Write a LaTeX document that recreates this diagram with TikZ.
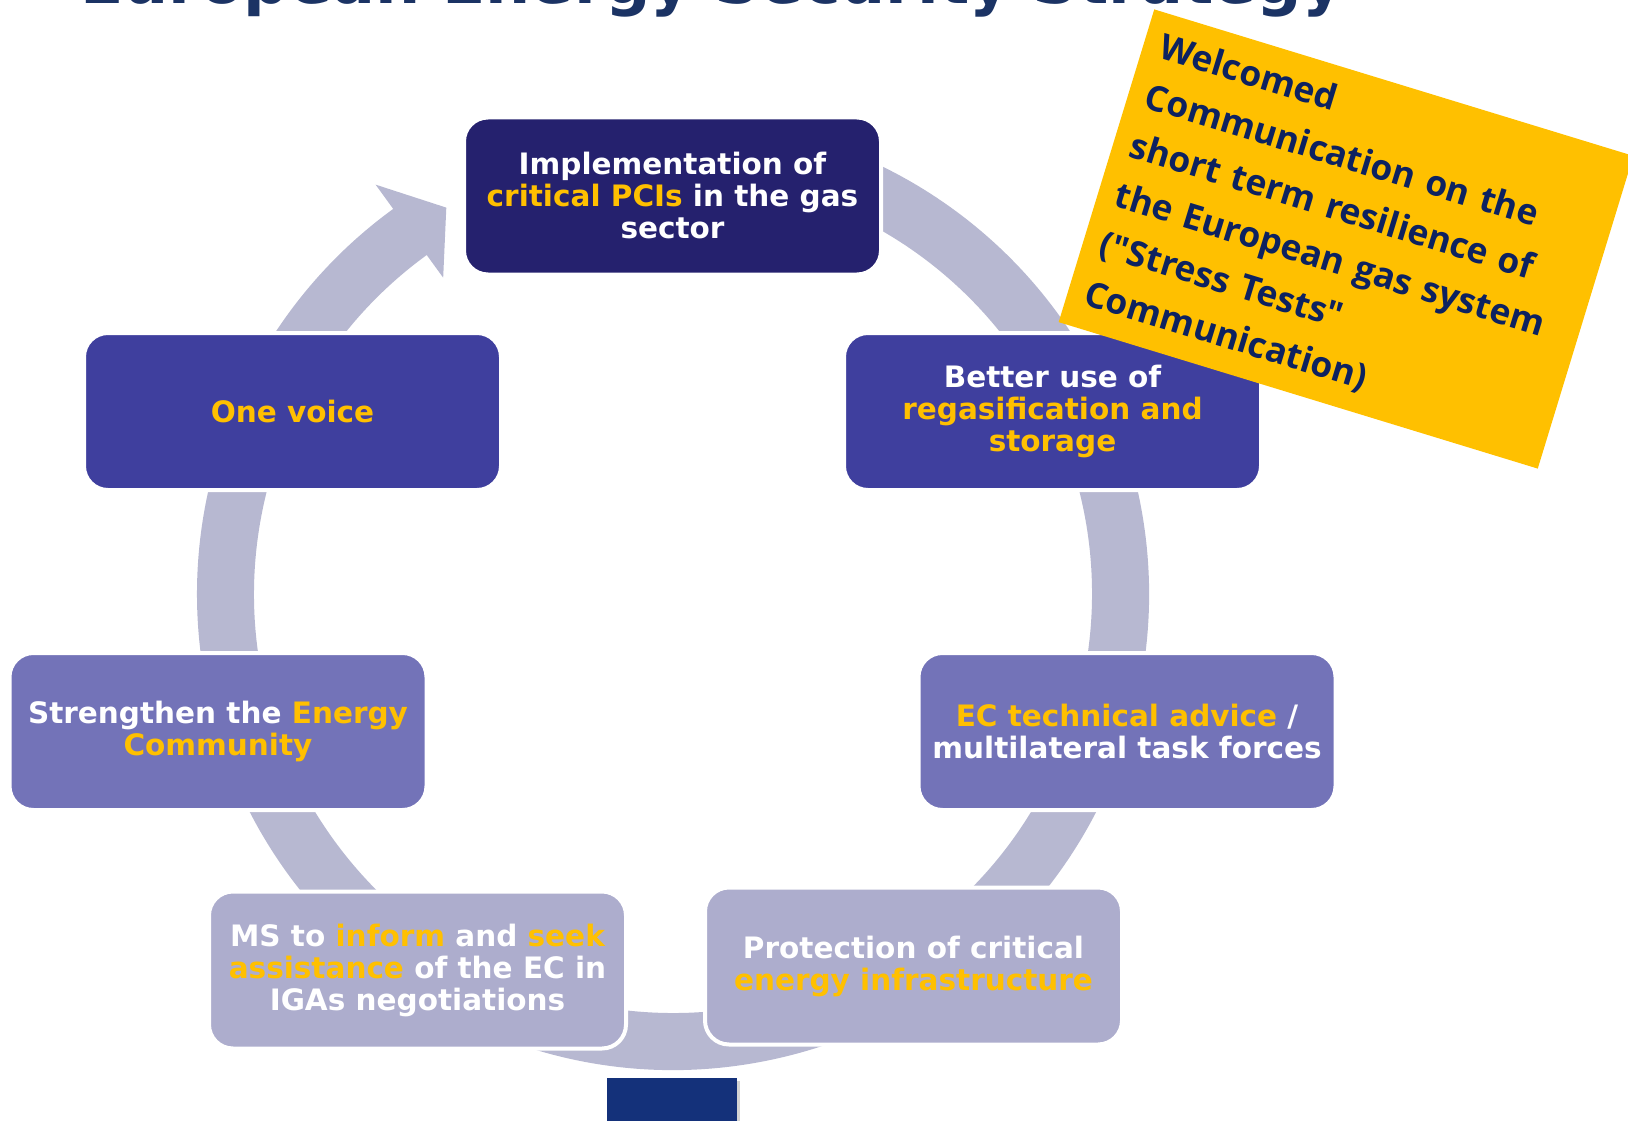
\documentclass[tikz,border=0pt]{standalone}
\usepackage{fontspec}
\setmainfont{DejaVu Sans}
\newfontfamily\notefont{Open Sans}
\usetikzlibrary{calc,shadows}

\definecolor{ringgray}{HTML}{B7B8D1}
\definecolor{navybox}{HTML}{25216E}
\definecolor{midbox}{HTML}{3F3F9E}
\definecolor{lightbox}{HTML}{7373B8}
\definecolor{palebox}{HTML}{ADADCD}
\definecolor{eugold}{HTML}{FFC000}
\definecolor{titleblue}{HTML}{1B3364}
\definecolor{notetext}{HTML}{0D2260}
\definecolor{footblue}{HTML}{14317A}

\newcommand{\gold}[1]{\textcolor{eugold}{#1}}

\tikzset{
  pillar/.style={rounded corners=24pt, draw=white, line width=4pt, text=white,
    font=\bfseries\fontsize{29.5}{32}\selectfont, align=center,
    minimum width=417pt, minimum height=157pt, inner sep=0pt},
}

\begin{document}
\begin{tikzpicture}[x=1pt,y=-1pt]
  \useasboundingbox (0,0) rectangle (1628,1121);

  % Title, cut off by the page edge
  \node[anchor=base west, inner sep=0pt, text=titleblue, font=\bfseries\fontsize{63.5}{72}\selectfont] (title) at (80,4) {European Energy Security Strategy};

  % Ring with its arrow head
  \coordinate (hub) at (673,594);
  \fill[ringgray] ($(hub)+(255:476)$) arc[start angle=255, end angle=594, radius=476]
    -- ($(hub)+(594:506)$) -- ($(hub)+(599.6:448)$) -- ($(hub)+(594:391)$)
    -- ($(hub)+(594:419)$) arc[start angle=594, end angle=255, radius=419] -- cycle;

  % Boxes round the ring
  \node[pillar, fill=navybox] (pci) at (672.5,196) {Implementation of\\\gold{critical PCIs} in the gas\\sector};
  \node[pillar, fill=midbox] (voice) at (292.5,411.5) {\gold{One voice}};
  \node[pillar, fill=midbox] (regas) at (1052.5,411.5) {Better use of\\\gold{regasification and}\\\gold{storage}};
  \node[pillar, fill=lightbox] (encom) at (218,731.5) {Strengthen the \gold{Energy}\\\gold{Community}};
  \node[pillar, fill=lightbox] (advice) at (1127,731.5) {\gold{EC technical advice} /\\multilateral task forces};
  \node[pillar, fill=palebox] (iga) at (417.5,970) {MS to \gold{inform} and \gold{seek}\\\gold{assistance} of the EC in\\IGAs negotiations};
  \node[pillar, fill=palebox] (infra) at (913.5,966) {Protection of critical\\\gold{energy infrastructure}};

  % Yellow note
  \node[fill=eugold, rotate=-17, minimum width=501pt, minimum height=327pt, inner sep=0pt,
    text width=466pt, align=left, text=notetext, font=\notefont\bfseries\fontsize{35.3}{51.5}\selectfont] (note) at (1346,239)
    {Welcomed\\Communication on the\\short term resilience of\\the European gas system\\("Stress Tests"\\Communication)};

  % Footer block
  \node[fill=footblue, minimum width=130pt, minimum height=60pt, inner sep=0pt, anchor=north west,
    drop shadow={opacity=0.35}] (foot) at (607,1078) {};
\end{tikzpicture}
\end{document}
